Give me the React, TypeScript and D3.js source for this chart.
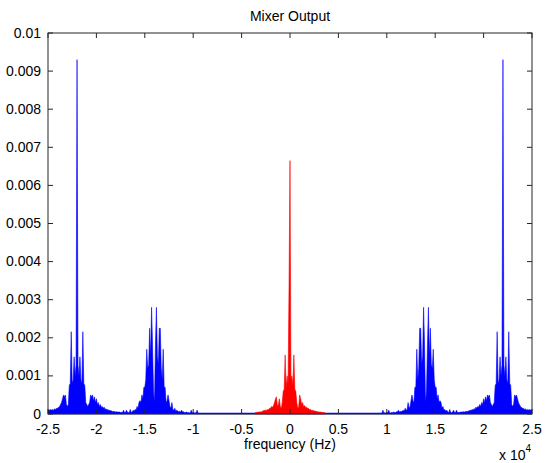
import React from "react";
import * as d3 from "d3";

// ---- data (amplitudes in units of 0.001) ----
const xTickValues = [-25000, -20000, -15000, -10000, -5000, 0, 5000, 10000, 15000, 20000, 25000];
const xTickLabels = ["-2.5", "-2", "-1.5", "-1", "-0.5", "0", "0.5", "1", "1.5", "2", "2.5"];
const yTickValues = [0, 0.001, 0.002, 0.003, 0.004, 0.005, 0.006, 0.007, 0.008, 0.009, 0.01];
const yTickLabels = ["0", "0.001", "0.002", "0.003", "0.004", "0.005", "0.006", "0.007", "0.008", "0.009", "0.01"];

// blue: positive-frequency half spectrum, sampled every 100 Hz from 9500 Hz (mirrored for negative side)
const blueStartHz = 9500;
const blueStepHz = 100;
const bluePosAmp = [
  0.03, 0.1, 0.02, 0.03, 0.02, 0.04, 0.03, 0.1, 0.03, 0.02,
  0.04, 0.03, 0.05, 0.04, 0.03, 0.06, 0.05, 0.1, 0.05, 0.07,
  0.06, 0.08, 0.1, 0.07, 0.15, 0.1, 0.12, 0.3, 0.15, 0.2,
  0.35, 0.5, 0.35, 0.3, 0.7, 0.7, 1.7, 0.9, 1.2, 2.25,
  2.25, 1.3, 1.5, 2.8, 1.8, 0.3, 0.6, 1.8, 2.8, 1.5,
  2.25, 1.3, 1.2, 1.7, 0.9, 0.7, 0.7, 0.4, 0.5, 0.3,
  0.35, 0.3, 0.15, 0.2, 0.1, 0.12, 0.07, 0.1, 0.05, 0.04,
  0.12, 0.04, 0.03, 0.05, 0.1, 0.03, 0.04, 0.1, 0.04, 0.04,
  0.04, 0.05, 0.05, 0.05, 0.06, 0.05, 0.06, 0.07, 0.06, 0.08,
  0.08, 0.1, 0.09, 0.12, 0.1, 0.14, 0.12, 0.18, 0.15, 0.2,
  0.18, 0.25, 0.2, 0.3, 0.25, 0.4, 0.3, 0.45, 0.35, 0.5,
  0.45, 0.5, 0.3, 0.25, 0.2, 0.25, 0.3, 0.75, 0.8, 2.16,
  0.8, 0.9, 1.5, 1.0, 1.28, 9.3, 1.28, 1.0, 1.5, 0.9,
  0.8, 2.16, 0.8, 0.75, 0.25, 0.2, 0.25, 0.5, 0.45, 0.5,
  0.4, 0.3, 0.25, 0.2, 0.18, 0.15, 0.15, 0.12, 0.14, 0.1,
  0.12, 0.1, 0.12, 0.1, 0.11, 0.1,
];

// red: baseband spectrum, every 100 Hz from -3600 Hz to 3600 Hz
const redStartHz = -3600;
const redStepHz = 100;
const redAmp = [
  0.03, 0.04, 0.04, 0.05, 0.05, 0.05, 0.06, 0.06, 0.08, 0.09,
  0.1, 0.1, 0.1, 0.12, 0.12, 0.15, 0.15, 0.2, 0.18, 0.22,
  0.3, 0.4, 0.45, 0.2, 0.25, 0.4, 0.2, 0.15, 0.3, 0.6,
  0.65, 1.55, 0.7, 1.0, 0.8, 3.34, 6.65, 0.9, 1.0, 0.75,
  1.55, 0.65, 0.6, 0.3, 0.15, 0.2, 0.5, 0.4, 0.25, 0.3,
  0.2, 0.22, 0.18, 0.18, 0.15, 0.15, 0.12, 0.12, 0.1, 0.1,
  0.09, 0.08, 0.08, 0.07, 0.06, 0.06, 0.05, 0.05, 0.05, 0.04,
  0.04, 0.03, 0.03,
];

const W = 545;
const H = 463;
const L = 48, R = 532, T = 33, B = 414;
const FONT = "'Liberation Sans', Arial, Helvetica, sans-serif";
const FS = 14;

type Pt = [number, number];

export default function App() {
  const x = d3.scaleLinear().domain([-25000, 25000]).range([L, R]);
  const y = d3.scaleLinear().domain([0, 0.01]).range([B, T]);

  const bluePos: Pt[] = bluePosAmp.map((a, i) => [blueStartHz + i * blueStepHz, a / 1000]);
  const blueNeg: Pt[] = bluePos.map(([f, a]) => [-f, a] as Pt).reverse();
  const red: Pt[] = redAmp.map((a, i) => [redStartHz + i * redStepHz, a / 1000]);

  const area = d3
    .area<Pt>()
    .x((d) => x(d[0]))
    .y0(B)
    .y1((d) => y(d[1]));
  const line = d3
    .line<Pt>()
    .x((d) => x(d[0]))
    .y((d) => y(d[1]));

  const tick = 5;
  const axisColor = "#262626";

  return (
    <svg
      width={W}
      height={H}
      style={{ position: "absolute", left: 0, top: 0, background: "#fff" }}
      fontFamily={FONT}
    >
      <rect x={0} y={0} width={W} height={H} fill="#fff" />
      {/* data */}
      {[blueNeg, bluePos].map((s, i) => (
        <g key={"b" + i}>
          <path d={area(s) || ""} fill="#0000ff" />
          <path d={line(s) || ""} fill="none" stroke="#0000ff" strokeWidth={0.6} />
        </g>
      ))}
      <line x1={x(-25000)} x2={x(25000)} y1={B - 0.5} y2={B - 0.5} stroke="#0000ff" strokeWidth={1.5} />
      <path d={area(red) || ""} fill="#ff0000" />
      <path d={line(red) || ""} fill="none" stroke="#ff0000" strokeWidth={0.6} />
      <line x1={x(redStartHz)} x2={x(-redStartHz)} y1={B - 0.5} y2={B - 0.5} stroke="#ff0000" strokeWidth={1.5} />

      {/* axes box */}
      <rect x={L} y={T} width={R - L} height={B - T} fill="none" stroke={axisColor} strokeWidth={1} />
      {xTickValues.map((v, i) => (
        <g key={"xt" + i}>
          <line x1={x(v)} x2={x(v)} y1={B} y2={B - tick} stroke={axisColor} />
          <line x1={x(v)} x2={x(v)} y1={T} y2={T + tick} stroke={axisColor} />
          <text x={x(v)} y={434} fontSize={FS} textAnchor="middle" fill="#000">
            {xTickLabels[i]}
          </text>
        </g>
      ))}
      {yTickValues.map((v, i) => (
        <g key={"yt" + i}>
          <line x1={L} x2={L + tick} y1={y(v)} y2={y(v)} stroke={axisColor} />
          <line x1={R} x2={R - tick} y1={y(v)} y2={y(v)} stroke={axisColor} />
          <text x={L - 7} y={y(v) + 4.5} fontSize={FS} textAnchor="end" fill="#000">
            {yTickLabels[i]}
          </text>
        </g>
      ))}
      <text x={(L + R) / 2} y={21} fontSize={FS} textAnchor="middle" fill="#000">
        Mixer Output
      </text>
      <text x={(L + R) / 2} y={449} fontSize={FS} textAnchor="middle" fill="#000">
        frequency (Hz)
      </text>
      <text x={499} y={460} fontSize={FS} fill="#000">
        x 10
        <tspan dy={-8} fontSize={10}>4</tspan>
      </text>
    </svg>
  );
}
